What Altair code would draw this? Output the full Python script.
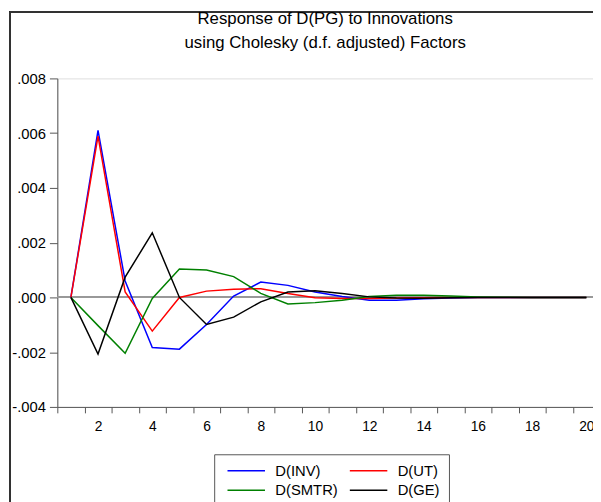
import altair as alt
import pandas as pd

periods = list(range(1, 21))
series_names = ["D(INV)", "D(UT)", "D(SMTR)", "D(GE)"]
series_colors = ["#0000ff", "#ff0000", "#008000", "#000000"]
inv = [0.0, 0.00610, 0.00060, -0.00183, -0.00189, -0.00099, 0.00005, 0.00056, 0.00044, 0.00020,
       0.00003, -0.00010, -0.00010, -0.00005, -0.00002, 0.00000, 0.00000, 0.00000, 0.00000, 0.00000]
ut = [0.0, 0.00589, 0.00020, -0.00123, 0.00000, 0.00023, 0.00030, 0.00032, 0.00014, -0.00001,
      -0.00004, -0.00004, -0.00002, -0.00001, 0.00000, 0.00000, 0.00000, 0.00000, 0.00000, 0.00000]
smtr = [0.0, -0.00103, -0.00204, -0.00004, 0.00104, 0.00100, 0.00076, 0.00015, -0.00024, -0.00019,
        -0.00010, 0.00003, 0.00008, 0.00008, 0.00005, 0.00002, 0.00001, 0.00000, 0.00000, 0.00000]
ge = [0.0, -0.00207, 0.00074, 0.00236, 0.00000, -0.00099, -0.00072, -0.00016, 0.00020, 0.00024,
      0.00014, 0.00002, -0.00002, -0.00003, -0.00001, 0.00000, 0.00000, 0.00000, 0.00000, 0.00000]
y_ticks = [-0.004, -0.002, 0.0, 0.002, 0.004, 0.006, 0.008]
title_lines = ["Response of D(PG) to Innovations", "using Cholesky (d.f. adjusted) Factors"]

rows = []
for name, vals in zip(series_names, [inv, ut, smtr, ge]):
    for p, v in zip(periods, vals):
        rows.append({"period": p, "value": v, "series": name})
df = pd.DataFrame(rows)

W, H = 543, 333
FONT = "Liberation Sans"

x_enc = alt.X(
    "period:Q",
    scale=alt.Scale(domain=[0.5, 20.5], range=[0, 550], nice=False, zero=False),
    axis=alt.Axis(
        title=None, values=periods, grid=False, tickOffset=-13.75, labelOffset=13.75,
        labelExpr="datum.value % 2 == 0 ? toString(datum.value) : ''",
        labelOverlap=False, labelFlush=False, tickSize=6, labelPadding=7,
        labelFontSize=14, labelFont=FONT, labelColor="black",
        domainColor="#555", tickColor="#555",
    ),
)
y_enc = alt.Y(
    "value:Q",
    scale=alt.Scale(domain=[-0.004, 0.008], nice=False, zero=False),
    axis=alt.Axis(
        title=None, values=y_ticks, grid=False, tickSize=8, labelPadding=4,
        labelExpr="datum.value < 0 ? '-' + substring(format(-datum.value, '.3f'), 1) : substring(format(datum.value, '.3f'), 1)",
        labelFontSize=15, labelFont=FONT, labelColor="black",
        domainColor="#555", tickColor="#555", labelOverlap=False,
    ),
)

lines = alt.Chart(df).mark_line(strokeWidth=1.5, clip=False).encode(
    x=x_enc,
    y=y_enc,
    color=alt.Color(
        "series:N",
        scale=alt.Scale(domain=series_names, range=series_colors),
        legend=alt.Legend(
            orient="none", legendX=159, legendY=381, columns=2, direction="horizontal",
            title=None,
            symbolType="M-3.8,0L3.8,0", symbolSize=100, symbolStrokeWidth=1.5,
            symbolOffset=16, labelOffset=22, labelFontSize=15, labelFont=FONT,
            labelColor="black", strokeColor="#555", fillColor="white",
            padding=9, rowPadding=4, columnPadding=7,
        ),
    ),
    detail="series:N",
)

zero = alt.Chart(df).mark_rule(color="#999999", strokeWidth=1.3).encode(y=alt.datum(0.0))

frame_left = alt.Chart(df).mark_rule(color="#333", strokeWidth=1.5).encode(
    x=alt.value(-48), y=alt.value(-68), y2=alt.value(430)
)
frame_top = alt.Chart(df).mark_rule(color="#333", strokeWidth=1.5).encode(
    x=alt.value(-48), x2=alt.value(W + 10), y=alt.value(-67.5)
)

chart = alt.layer(zero, lines, frame_left, frame_top).properties(
    width=W,
    height=H,
    title=alt.TitleParams(
        title_lines, font=FONT, fontSize=17, fontWeight="normal", color="black",
        lineHeight=24, offset=28, dy=70, anchor="middle", frame="group",
    ),
    autosize=alt.AutoSizeParams(type="none"),
    padding={"left": 50, "top": 68, "right": 0, "bottom": 93},
).configure_view(stroke="#888").configure(font=FONT)

chart.save("out.html", embed_options={"renderer": "svg", "actions": False})
